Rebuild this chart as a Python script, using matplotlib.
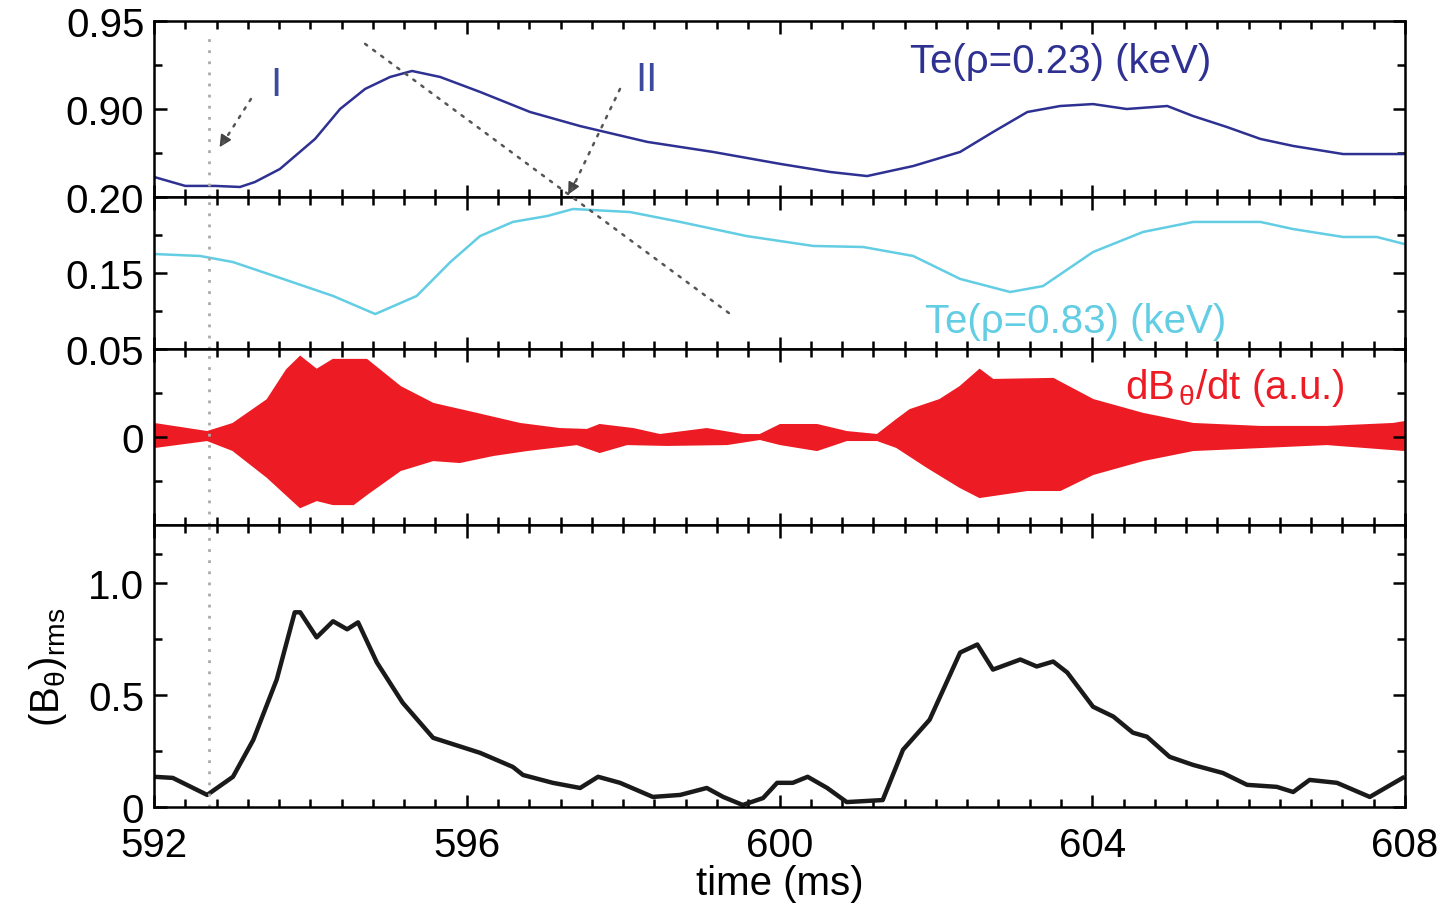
import numpy as np
import matplotlib
matplotlib.use('Agg')
import matplotlib.pyplot as plt
from matplotlib.patches import ConnectionPatch
from matplotlib.ticker import MultipleLocator, FixedLocator

plt.rcParams['font.family'] = ['Liberation Sans', 'DejaVu Sans']
plt.rcParams['mathtext.fontset'] = 'custom'
plt.rcParams['mathtext.rm'] = 'Liberation Sans'
plt.rcParams['mathtext.it'] = 'Liberation Sans:italic'
plt.rcParams['mathtext.default'] = 'regular'

# core electron temperature, rho = 0.23 (keV)
t_core = [592.00, 592.40, 592.78, 593.10, 593.29, 593.61, 594.06, 594.38, 594.70,
          595.02, 595.30, 595.66, 596.17, 596.81, 597.45, 598.31, 599.15, 600.01,
          600.65, 601.12, 601.71, 602.31, 602.73, 603.17, 603.59, 604.01, 604.44,
          604.96, 605.29, 605.72, 606.15, 606.57, 607.21, 607.97]
te_core = [0.8614, 0.8563, 0.8563, 0.8557, 0.8585, 0.8659, 0.8830, 0.9000, 0.9114,
           0.9182, 0.9216, 0.9182, 0.9097, 0.8983, 0.8903, 0.8813, 0.8756, 0.8688,
           0.8642, 0.8619, 0.8676, 0.8756, 0.8869, 0.8983, 0.9017, 0.9028, 0.9000,
           0.9017, 0.8960, 0.8898, 0.8830, 0.8790, 0.8744, 0.8744]

# edge electron temperature, rho = 0.83 (keV)
t_edge = [592.00, 592.59, 593.01, 593.65, 594.29, 594.83, 595.36, 595.79, 596.17,
          596.59, 597.03, 597.36, 598.09, 598.73, 599.58, 600.43, 601.07, 601.71,
          602.31, 602.95, 603.37, 604.01, 604.65, 605.29, 606.15, 606.57, 607.21,
          607.64, 607.99]
te_edge = [0.1625, 0.1612, 0.1572, 0.1461, 0.1349, 0.1230, 0.1349, 0.1572, 0.1743,
           0.1836, 0.1875, 0.1921, 0.1901, 0.1836, 0.1743, 0.1678, 0.1671, 0.1612,
           0.1461, 0.1375, 0.1414, 0.1638, 0.1770, 0.1836, 0.1836, 0.1789, 0.1737,
           0.1737, 0.1691]

# Mirnov signal envelope dB_theta/dt (a.u.)
t_env_hi = [592.00, 592.68, 593.01, 593.45, 593.70, 593.87, 594.08, 594.29, 594.72,
            595.15, 595.57, 596.13, 596.68, 597.19, 597.54, 597.70, 598.13, 598.47,
            599.07, 599.53, 599.75, 600.01, 600.48, 600.86, 601.25, 601.50, 601.67,
            602.05, 602.31, 602.56, 602.73, 603.50, 604.01, 604.65, 605.29, 606.15,
            607.00, 607.85, 608.00]
env_hi = [0.0074, 0.0028, 0.0074, 0.0210, 0.0381, 0.0455, 0.0381, 0.0438, 0.0438,
          0.0284, 0.0188, 0.0131, 0.0074, 0.0045, 0.0040, 0.0068, 0.0045, 0.0011,
          0.0045, 0.0011, 0.0011, 0.0068, 0.0068, 0.0028, 0.0011, 0.0097, 0.0153,
          0.0210, 0.0284, 0.0381, 0.0324, 0.0330, 0.0210, 0.0131, 0.0074, 0.0057,
          0.0057, 0.0074, 0.0085]
t_env_lo = [592.00, 592.68, 593.01, 593.45, 593.87, 594.08, 594.29, 594.55, 594.72,
            595.15, 595.57, 595.91, 596.34, 596.77, 597.41, 597.70, 598.05, 598.56,
            599.33, 599.75, 600.01, 600.48, 600.86, 601.25, 601.50, 601.89, 602.31,
            602.56, 603.17, 603.59, 604.01, 604.65, 605.29, 606.15, 607.00, 608.00]
env_lo = [-0.0057, -0.0017, -0.0074, -0.0227, -0.0398, -0.0358, -0.0381, -0.0381,
          -0.0324, -0.0188, -0.0131, -0.0142, -0.0102, -0.0074, -0.0040, -0.0085,
          -0.0040, -0.0045, -0.0040, -0.0011, -0.0040, -0.0074, -0.0017, -0.0017,
          -0.0057, -0.0170, -0.0284, -0.0341, -0.0301, -0.0301, -0.0210, -0.0131,
          -0.0074, -0.0057, -0.0040, -0.0074]

# rms amplitude of B_theta
t_rms = [592.00, 592.24, 592.68, 593.01, 593.27, 593.57, 593.80, 593.87, 594.08,
         594.29, 594.47, 594.61, 594.85, 595.18, 595.57, 596.17, 596.59, 596.72,
         597.10, 597.45, 597.68, 597.96, 598.38, 598.73, 599.07, 599.28, 599.53,
         599.79, 599.97, 600.17, 600.36, 600.61, 600.86, 601.32, 601.58, 601.92,
         602.31, 602.53, 602.73, 603.08, 603.29, 603.50, 603.68, 604.01, 604.27,
         604.52, 604.70, 604.99, 605.29, 605.67, 605.98, 606.36, 606.57, 606.78,
         607.13, 607.55, 607.97]
b_rms = [0.135, 0.130, 0.054, 0.135, 0.300, 0.570, 0.870, 0.870, 0.758, 0.830,
         0.794, 0.825, 0.646, 0.466, 0.309, 0.242, 0.179, 0.143, 0.108, 0.085,
         0.135, 0.108, 0.045, 0.054, 0.085, 0.045, 0.009, 0.040, 0.108, 0.108,
         0.135, 0.085, 0.022, 0.031, 0.256, 0.390, 0.690, 0.726, 0.614, 0.659,
         0.628, 0.650, 0.601, 0.448, 0.404, 0.332, 0.314, 0.224, 0.188, 0.152,
         0.099, 0.090, 0.067, 0.121, 0.108, 0.045, 0.130]

t_mark = 592.70
blue = '#2e3192'
cyan = '#62cde3'
red = '#ed1c24'
fs = 29

fig = plt.figure(figsize=(14.41, 9.04), dpi=100)
left, width = 154 / 1441, 1251 / 1441
edges = [22, 198, 350, 526, 808]
axes = []
for i in range(4):
    bottom = 1 - edges[i + 1] / 904
    height = (edges[i + 1] - edges[i]) / 904
    axes.append(fig.add_axes([left, bottom, width, height]))
ax1, ax2, ax3, ax4 = axes

for ax in axes:
    ax.set_xlim(592, 608)
    ax.xaxis.set_major_locator(MultipleLocator(4))
    ax.xaxis.set_minor_locator(MultipleLocator(0.4))
    ax.tick_params(which='both', direction='in', top=True, right=True,
                   labelsize=fs, width=1.8)
    ax.tick_params(axis='y', pad=7)
    ax.tick_params(axis='x', pad=14)
    ax.tick_params(which='major', length=9)
    ax.tick_params(which='minor', length=6)
    for s in ax.spines.values():
        s.set_linewidth(1.8)
    if ax is not ax4:
        ax.tick_params(labelbottom=False)

# panel 1
ax1.plot(t_core, te_core, color=blue, lw=1.8)
ax1.set_ylim(0.85, 0.95)
ax1.set_yticks([0.85, 0.90, 0.95])
ax1.set_yticklabels(['', '0.90', '0.95'])
ax1.yaxis.set_minor_locator(FixedLocator([0.875, 0.925]))
ax1.text(601.67, 0.9273, 'Te(\u03c1=0.23) (keV)', color=blue, fontsize=fs,
         va='center', ha='left')
ax1.text(593.56, 0.914, 'I', color='#3b4a9c', fontsize=fs, va='center', ha='center')
ax1.text(598.3, 0.917, 'II', color='#3b4a9c', fontsize=fs, va='center', ha='center')

# panel 2
ax2.plot(t_edge, te_edge, color=cyan, lw=1.8)
ax2.set_ylim(0.10, 0.20)
ax2.set_yticks([0.10, 0.15, 0.20])
ax2.set_yticklabels(['', '0.15', '0.20'])
ax2.yaxis.set_minor_locator(FixedLocator([0.125, 0.175]))
ax2.text(601.86, 0.1184, 'Te(\u03c1=0.83) (keV)', color=cyan, fontsize=fs,
         va='center', ha='left')

# panel 3
ax3.fill(np.concatenate([t_env_hi, t_env_lo[::-1]]),
         np.concatenate([env_hi, env_lo[::-1]]), color=red, lw=1.5, ec=red)
ax3.set_ylim(-0.05, 0.05)
ax3.set_yticks([-0.05, 0, 0.05])
ax3.set_yticklabels(['', '0', '0.05'])
ax3.yaxis.set_minor_locator(FixedLocator([-0.025, 0.025]))
ax3.text(604.42, 0.0284, 'dB$_{\\,\\theta}$/dt (a.u.)', color=red, fontsize=fs,
         va='center', ha='left')

# panel 4
ax4.plot(t_rms, b_rms, color='#1a1a1a', lw=3.2)
ax4.set_ylim(0, 1.26)
ax4.set_yticks([0, 0.5, 1.0])
ax4.set_yticklabels(['0', '0.5', '1.0'])
ax4.yaxis.set_minor_locator(FixedLocator([0.25, 0.75, 1.13]))
ax4.set_xticks([592, 596, 600, 604, 608])
ax4.set_xticklabels(['592', '596', '600', '604', '608'])
ax4.set_xlabel('time (ms)', fontsize=fs, labelpad=0)
ax4.set_ylabel('(B$_\\theta$)$_{rms}$', fontsize=fs, labelpad=14)

# vertical marker through all panels
dots = (0, (1, 3))
for ax in axes:
    top = 0.94 if ax is ax1 else 1
    ax.axvline(t_mark, ymin=0, ymax=top, color='#aaaaaa', lw=2, ls=dots)

# diagonal guide crossing the two temperature panels
diag = ConnectionPatch(xyA=(594.70, 0.937), coordsA=ax1.transData,
                       xyB=(599.37, 0.123), coordsB=ax2.transData,
                       color='#555555', lw=1.8, ls=dots)
fig.add_artist(diag)

# arrows I and II
arr1 = ConnectionPatch(xyA=(593.24, 0.9057), coordsA=ax1.transData,
                       xyB=(592.85, 0.8784), coordsB=ax1.transData,
                       color='#555555', lw=1.8, ls=dots)
arr2 = ConnectionPatch(xyA=(597.96, 0.9114), coordsA=ax1.transData,
                       xyB=(597.34, 0.8540), coordsB=ax1.transData,
                       color='#555555', lw=1.8, ls=dots)
fig.add_artist(arr1)
fig.add_artist(arr2)
ax1.annotate('', xy=(592.82, 0.8770), xytext=(592.92, 0.8840),
             arrowprops=dict(arrowstyle='-|>', color='#444444', lw=1.2,
                             mutation_scale=18))
ax1.annotate('', xy=(597.28, 0.8500), xytext=(597.40, 0.8600),
             arrowprops=dict(arrowstyle='-|>', color='#444444', lw=1.2,
                             mutation_scale=18))

fig.savefig('out.png', dpi=100)
